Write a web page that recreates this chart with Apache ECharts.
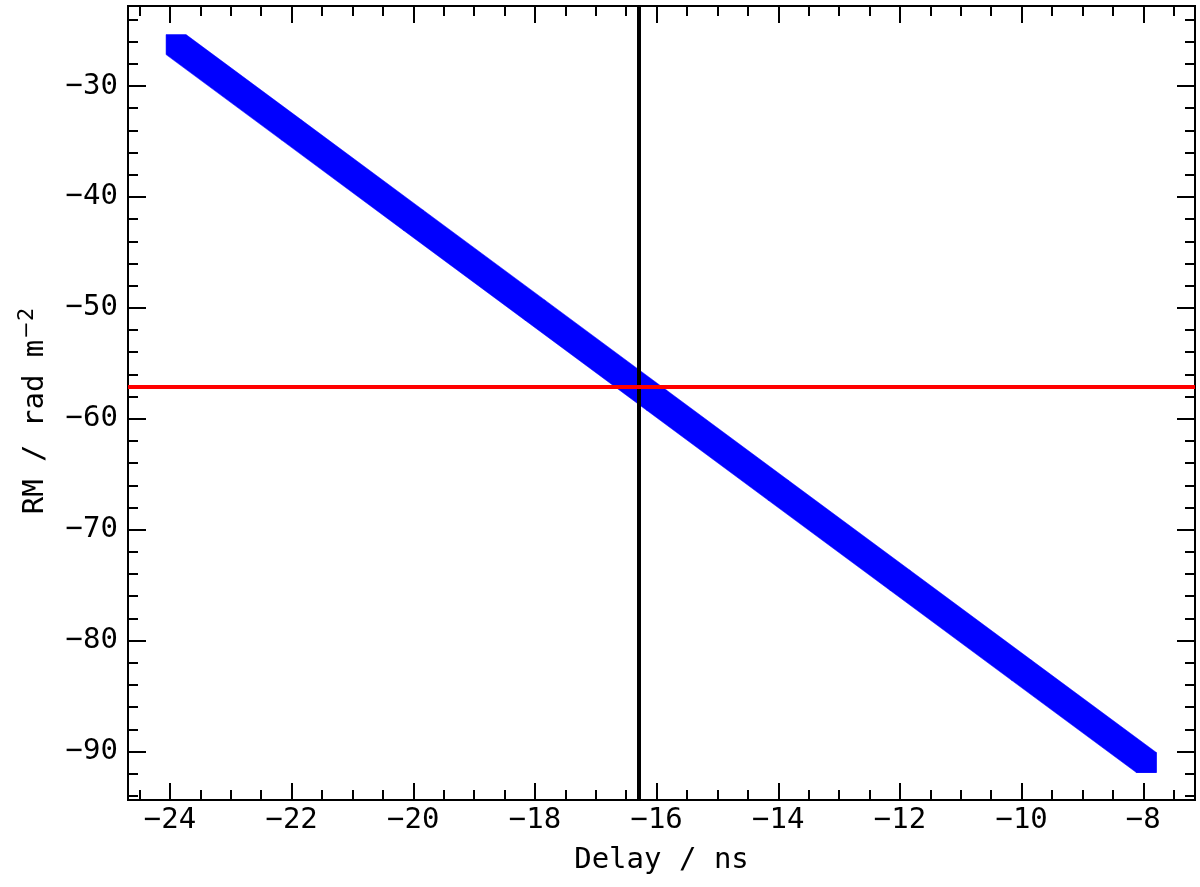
<!DOCTYPE html>
<html>
<head>
<meta charset="utf-8">
<script src="https://cdn.jsdelivr.net/npm/echarts@6/dist/echarts.min.js"></script>
<style>html,body{margin:0;padding:0;background:#fff}#c{width:1200px;height:887px}</style>
</head>
<body>
<div id="c"></div>
<script>
// Band centre points (Delay in ns, RM in rad m^-2)
const delays = [-23.9, -22, -20, -18, -16, -14, -12, -10, -7.95];
const rmValues = [-26.27, -33.98, -42.10, -50.21, -58.33, -66.45, -74.56, -82.68, -90.99];
// Reference lines
const delayLine = -16.285;
const rmLine = -57.12;
// Tick positions
const xMajorTicks = [-24, -22, -20, -18, -16, -14, -12, -10, -8];
const xMinorTicks = [-24.5, -23.5, -23, -22.5, -21.5, -21, -20.5, -19.5, -19, -18.5, -17.5, -17, -16.5, -15.5, -15, -14.5, -13.5, -13, -12.5, -11.5, -11, -10.5, -9.5, -9, -8.5, -7.5];
const yMajorTicks = [-90, -80, -70, -60, -50, -40, -30];
const yMinorTicks = [-94, -92, -88, -86, -84, -82, -78, -76, -74, -72, -68, -66, -64, -62, -58, -56, -54, -52, -48, -46, -44, -42, -38, -36, -34, -32, -28, -26, -24];

const X_MIN = -24.69, X_MAX = -7.15, Y_MIN = -94.37, Y_MAX = -22.79;
const FONT = 'DejaVu Sans Mono';
const FS = 29;
const fmt = v => String(v).replace('-', '\u2212');

function xAxisDef(pos, ticks, len, labels) {
  return {
    type: 'value', min: X_MIN, max: X_MAX, position: pos,
    axisLine: { show: true, onZero: false, lineStyle: { color: '#000', width: 2 } },
    axisTick: { show: true, inside: true, length: len, customValues: ticks, lineStyle: { color: '#000', width: 2 } },
    axisLabel: labels ? { show: true, customValues: ticks, formatter: fmt, fontFamily: FONT, fontSize: FS, color: '#000', margin: 6 } : { show: false },
    splitLine: { show: false }, minorTick: { show: false }
  };
}
function yAxisDef(pos, ticks, len, labels) {
  return {
    type: 'value', min: Y_MIN, max: Y_MAX, position: pos,
    axisLine: { show: true, onZero: false, lineStyle: { color: '#000', width: 2 } },
    axisTick: { show: true, inside: true, length: len, customValues: ticks, lineStyle: { color: '#000', width: 2 } },
    axisLabel: labels ? { show: true, customValues: ticks, formatter: fmt, fontFamily: FONT, fontSize: FS, color: '#000', margin: 10 } : { show: false },
    splitLine: { show: false }, minorTick: { show: false }
  };
}

const xAxes = [
  xAxisDef('bottom', xMajorTicks, 17, true),
  xAxisDef('bottom', xMinorTicks, 10, false),
  xAxisDef('top', xMajorTicks, 17, false),
  xAxisDef('top', xMinorTicks, 10, false)
];
Object.assign(xAxes[0], {
  name: 'Delay / ns', nameLocation: 'middle', nameGap: 46,
  nameTextStyle: { fontFamily: FONT, fontSize: FS, color: '#000' }
});
const yAxes = [
  yAxisDef('left', yMajorTicks, 18, true),
  yAxisDef('left', yMinorTicks, 10, false),
  yAxisDef('right', yMajorTicks, 18, false),
  yAxisDef('right', yMinorTicks, 10, false)
];
Object.assign(yAxes[0], {
  name: 'RM / rad m{sup|\u22122}', nameLocation: 'middle', nameGap: 74, nameRotate: 90,
  nameTextStyle: { fontFamily: FONT, fontSize: FS, color: '#000', padding: [0, 16, 0, 0],
    rich: { sup: { fontFamily: 'DejaVu Sans', fontSize: 21, color: '#000', verticalAlign: 'top', padding: [0, 0, 16, 1] } } }
});

const H = 10; // half size of square marker in px
const bandData = delays.map((d, i) => [d, rmValues[i]]);

const option = {
  animation: false,
  backgroundColor: '#fff',
  grid: { left: 128, right: 5, top: 6, bottom: 87, containLabel: false },
  xAxis: xAxes,
  yAxis: yAxes,
  series: [{
    type: 'custom',
    xAxisIndex: 0, yAxisIndex: 0,
    data: bandData,
    renderItem: function (params, api) {
      const i = params.dataIndex;
      const p0 = api.coord([api.value(0), api.value(1)]);
      const j = Math.min(i + 1, bandData.length - 1);
      const p1 = api.coord(bandData[j]);
      const pts = [
        [p0[0] - H, p0[1] - H], [p0[0] + H, p0[1] - H],
        [p1[0] + H, p1[1] - H], [p1[0] + H, p1[1] + H],
        [p1[0] - H, p1[1] + H], [p0[0] - H, p0[1] + H]
      ];
      return { type: 'polygon', shape: { points: pts }, style: { fill: '#0000ff', stroke: '#0000ff', lineWidth: 0.5 } };
    },
    markLine: {
      silent: true, symbol: 'none', label: { show: false }, animation: false,
      data: [
        { xAxis: delayLine, lineStyle: { color: '#000', width: 4, type: 'solid' } },
        { yAxis: rmLine, lineStyle: { color: '#ff0000', width: 4, type: 'solid' } }
      ]
    }
  }]
};
echarts.init(document.getElementById('c'), null, { renderer: 'canvas' }).setOption(option);
</script>
</body>
</html>
